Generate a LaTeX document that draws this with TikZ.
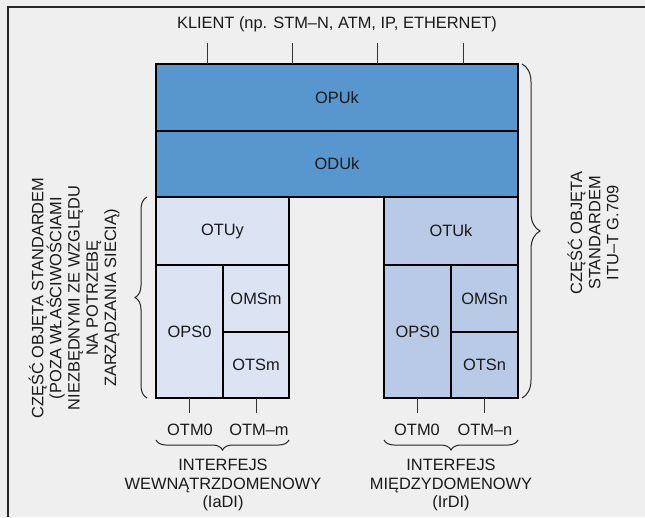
\documentclass[tikz,border=0pt]{standalone}
\usepackage{fontspec}
\setmainfont{Liberation Sans}
\usetikzlibrary{decorations.pathreplacing}
\definecolor{bgfill}{RGB}{239,239,239}
\definecolor{stdblue}{RGB}{88,150,206}
\definecolor{iadifill}{RGB}{220,227,243}
\definecolor{irdifill}{RGB}{184,202,230}

\begin{document}
\begin{tikzpicture}[x=1pt, y=-1pt,
  every node/.style={font=\fontsize{16.4}{18.2}\selectfont, text=black!90},
  layer/.style={draw, line width=1.2pt, anchor=north west, outer sep=0pt, inner sep=0pt},
  tick/.style={line width=1pt, black!80},
  curly/.style={decorate, decoration={brace, amplitude=#1}, line width=1pt, black!85},
  curly/.default=11pt]
\fill[bgfill] (0,0) rectangle (645,517);
\useasboundingbox (0,0) rectangle (645,517);
\draw[line width=1.6pt, black!85] (8,517) -- (8,7) -- (645,7);
% warstwy wspolne
\node[layer, fill=stdblue, minimum width=362pt, minimum height=67pt] (opu) at (156,64) {OPUk};
\node[layer, fill=stdblue, minimum width=362pt, minimum height=66pt] (odu) at (156,131) {ODUk};
% IaDI
\node[layer, fill=iadifill, minimum width=133pt, minimum height=68pt] (otuy) at (156,197) {OTUy};
\node[layer, fill=iadifill, minimum width=67pt, minimum height=133pt] (opsl) at (156,265) {OPS0};
\node[layer, fill=iadifill, minimum width=66pt, minimum height=67pt] (omsm) at (223,265) {OMSm};
\node[layer, fill=iadifill, minimum width=66pt, minimum height=66pt] (otsm) at (223,332) {OTSm};
% IrDI
\node[layer, fill=irdifill, minimum width=134pt, minimum height=68pt] (otuk) at (384,197) {OTUk};
\node[layer, fill=irdifill, minimum width=67pt, minimum height=133pt] (opsr) at (384,265) {OPS0};
\node[layer, fill=irdifill, minimum width=67pt, minimum height=67pt] (omsn) at (451,265) {OMSn};
\node[layer, fill=irdifill, minimum width=67pt, minimum height=66pt] (otsn) at (451,332) {OTSn};
% klient
\node (klient) at (337,24) {KLIENT (np. STM–N, ATM, IP, ETHERNET)};
\foreach \i/\x in {1/207,2/292,3/377,4/463} {
  \coordinate (stub\i) at (\x,43);
  \draw[tick] (stub\i) -- (stub\i |- opu.north);
}
% wyjscia OTM
\node (otm0l) at (190,430) {OTM0};
\node (otmm) at (259,430) {OTM–m};
\node (otm0r) at (417,430) {OTM0};
\node (otmn) at (485,430) {OTM–n};
\draw[tick, shorten >=8pt] (opsl.south) -- (opsl.south |- otm0l.north);
\draw[tick, shorten >=8pt] (otsm.south) -- (otsm.south |- otmm.north);
\draw[tick, shorten >=8pt] (opsr.south) -- (opsr.south |- otm0r.north);
\draw[tick, shorten >=8pt] (otsn.south) -- (otsn.south |- otmn.north);
% klamry
\draw[curly=12pt] ([xshift=-9pt]opsl.south west) -- ([xshift=-9pt]otuy.north west);
\draw[curly=18pt] ([xshift=4pt]opu.north east) -- ([xshift=4pt]opu.north east |- otsn.south east);
\draw[curly=10pt] (otsm.south east |- 0,440) -- (opsl.south west |- 0,440);
\draw[curly=10pt] (otsn.south east |- 0,440) -- (opsr.south west |- 0,440);
% opisy
\node[rotate=90, align=center] (stdleft) at (74,298) {CZĘŚĆ OBJĘTA STANDARDEM\\(POZA WŁAŚCIWOŚCIAMI\\NIEZBĘDNYMI ZE WZGLĘDU\\NA POTRZEBĘ\\ZARZĄDZANIA SIECIĄ)};
\node[rotate=90, align=center] (stdright) at (593,233) {CZĘŚĆ OBJĘTA\\STANDARDEM\\ITU–T G.709};
\node[align=center] (iadi) at (223,485) {INTERFEJS\\WEWNĄTRZDOMENOWY\\(IaDI)};
\node[align=center] (irdi) at (451,485) {INTERFEJS\\MIĘDZYDOMENOWY\\(IrDI)};
\end{tikzpicture}
\end{document}
